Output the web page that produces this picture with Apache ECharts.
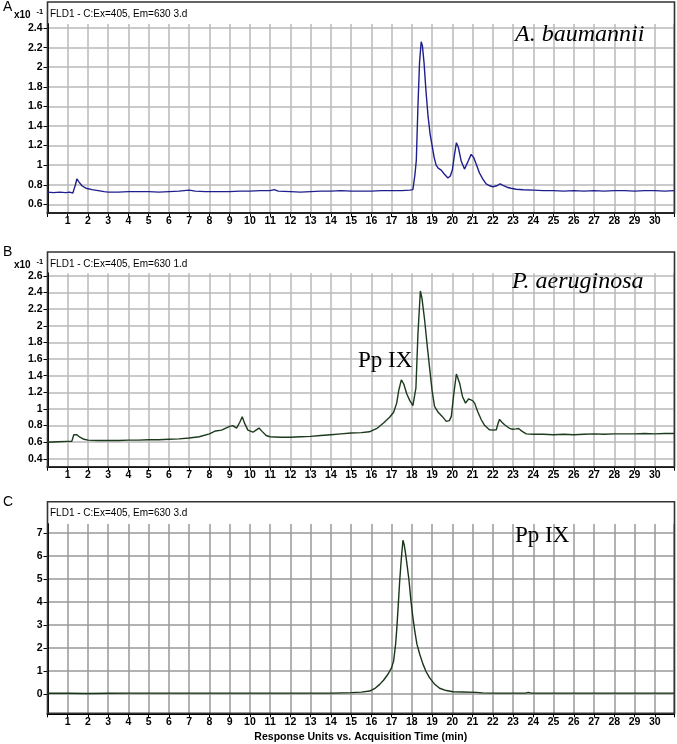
<!DOCTYPE html>
<html><head><meta charset="utf-8">
<script src="https://cdn.jsdelivr.net/npm/echarts@6/dist/echarts.min.js"></script>
<style>html,body{margin:0;padding:0;background:#fff}#c{width:677px;height:744px}</style>
</head><body><div id="c"></div>
<script>
// ---- data ----
const xTickLabels = [1,2,3,4,5,6,7,8,9,10,11,12,13,14,15,16,17,18,19,20,21,22,23,24,25,26,27,28,29,30];
const yTicksA = [0.6,0.8,1,1.2,1.4,1.6,1.8,2,2.2,2.4];
const yTicksB = [0.4,0.6,0.8,1,1.2,1.4,1.6,1.8,2,2.2,2.4,2.6];
const yTicksC = [0,1,2,3,4,5,6,7];

const timeA = [0,0.3,0.6,0.9,1.1,1.25,1.32,1.38,1.45,1.55,1.7,1.9,2.2,2.5,2.8,3.0,3.5,4.0,4.5,5.0,5.5,6.0,6.5,7.0,7.3,7.8,8.5,9.0,9.5,10.0,10.5,11.0,11.2,11.4,12.0,12.5,13.0,13.5,14.0,14.5,15.0,15.5,16.0,16.5,17.0,17.5,17.9,18.05,18.15,18.22,18.3,18.38,18.46,18.52,18.6,18.7,18.8,18.9,19.0,19.1,19.2,19.3,19.45,19.6,19.78,19.9,20.0,20.1,20.2,20.3,20.44,20.6,20.68,20.8,20.93,21.05,21.2,21.34,21.5,21.67,21.85,22.0,22.2,22.36,22.5,22.7,22.9,23.15,23.5,24.0,24.5,25.0,25.5,26.0,26.5,27.0,27.5,28.0,28.5,29.0,29.5,30.0,30.5,30.95];
const valueA = [0.725,0.72,0.725,0.72,0.725,0.715,0.705,0.80,0.86,0.83,0.79,0.765,0.75,0.74,0.73,0.725,0.725,0.73,0.73,0.73,0.725,0.73,0.735,0.745,0.735,0.73,0.73,0.73,0.735,0.735,0.74,0.74,0.75,0.735,0.73,0.725,0.73,0.735,0.735,0.74,0.735,0.735,0.735,0.74,0.74,0.74,0.745,0.75,0.9,1.05,1.6,2.05,2.26,2.22,2.05,1.75,1.5,1.32,1.2,1.08,1.0,0.97,0.95,0.91,0.87,0.89,0.95,1.1,1.23,1.18,1.04,0.96,0.95,1.05,1.11,1.08,1.0,0.92,0.86,0.81,0.79,0.78,0.79,0.81,0.795,0.775,0.765,0.755,0.75,0.745,0.74,0.74,0.735,0.74,0.735,0.74,0.735,0.74,0.74,0.735,0.74,0.74,0.735,0.74];

const timeB = [0,0.5,1.0,1.2,1.3,1.35,1.45,1.6,1.8,2.0,2.5,3.0,3.5,4.0,4.5,5.0,5.5,6.0,6.5,7.0,7.5,8.0,8.3,8.6,9.0,9.15,9.34,9.5,9.62,9.75,9.9,10.15,10.3,10.45,10.6,10.8,11.0,11.5,12.0,12.5,13.0,13.5,14.0,14.5,15.0,15.5,15.9,16.3,16.6,16.9,17.1,17.25,17.35,17.48,17.6,17.75,17.9,18.05,18.13,18.2,18.3,18.42,18.5,18.63,18.75,18.87,19.0,19.12,19.3,19.5,19.7,19.85,19.95,20.08,20.2,20.36,20.5,20.65,20.8,20.88,21.0,21.1,21.25,21.43,21.6,21.83,22.0,22.17,22.25,22.33,22.45,22.58,22.8,22.98,23.15,23.27,23.45,23.65,24.0,24.5,25.0,25.5,26.0,26.5,27.0,27.5,28.0,28.5,29.0,29.5,30.0,30.5,30.95];
const valueB = [0.60,0.605,0.61,0.61,0.69,0.71,0.69,0.66,0.635,0.625,0.62,0.62,0.62,0.625,0.625,0.63,0.63,0.635,0.64,0.65,0.665,0.70,0.735,0.745,0.79,0.80,0.77,0.84,0.905,0.82,0.745,0.72,0.745,0.77,0.73,0.68,0.665,0.66,0.66,0.665,0.67,0.68,0.69,0.70,0.71,0.715,0.725,0.77,0.83,0.90,0.96,1.07,1.22,1.35,1.30,1.18,1.10,1.04,1.03,1.25,1.9,2.42,2.33,2.07,1.78,1.51,1.22,1.03,0.96,0.91,0.85,0.86,0.91,1.2,1.42,1.31,1.15,1.07,1.12,1.14,1.10,1.07,0.97,0.87,0.80,0.75,0.745,0.75,0.82,0.875,0.84,0.81,0.77,0.755,0.76,0.765,0.73,0.70,0.695,0.695,0.69,0.695,0.69,0.695,0.70,0.695,0.70,0.70,0.70,0.705,0.70,0.705,0.705];

const timeC = [0,1,2,3,4,5,6,7,8,9,10,11,12,13,14,14.5,15.0,15.5,15.92,16.2,16.41,16.6,16.82,17.0,17.1,17.2,17.26,17.33,17.4,17.48,17.56,17.62,17.69,17.78,17.86,17.95,18.05,18.15,18.25,18.4,18.55,18.7,18.87,19.1,19.37,19.7,20.03,20.5,21.18,21.5,22.0,23.0,23.6,23.75,23.9,24.5,25,26,27,28,29,30,30.95];
const valueC = [0.03,0.03,0.02,0.03,0.04,0.04,0.04,0.04,0.04,0.04,0.04,0.04,0.04,0.04,0.04,0.05,0.06,0.08,0.13,0.26,0.42,0.6,0.86,1.15,1.44,2.2,2.9,3.9,4.94,5.9,6.69,6.5,6.11,5.5,4.94,4.1,3.34,2.7,2.17,1.7,1.3,0.98,0.71,0.45,0.25,0.15,0.10,0.09,0.07,0.05,0.04,0.04,0.04,0.07,0.04,0.04,0.04,0.04,0.04,0.04,0.04,0.04,0.04];

const xAxisTitle = 'Response Units vs. Acquisition Time (min)';
const headers = ['FLD1 - C:Ex=405, Em=630 3.d','FLD1 - C:Ex=405, Em=630 1.d','FLD1 - C:Ex=405, Em=630 3.d'];

// ---- layout ----
const L = 47.5, W = 627;
const panels = [
  {top:24, height:189, min:0.512, max:2.441, split:9, ticks:yTicksA, frameTop:2, color:'#1e1e8e', grid:'#b8b8b8', t:timeA, v:valueA},
  {top:273.3, height:193.4, min:0.305, max:2.632, split:11, ticks:yTicksB, frameTop:252, color:'#1c3a1c', grid:'#b8b8b8', t:timeB, v:valueB},
  {top:524, height:189.3, min:-0.84, max:7.40, split:8, ticks:yTicksC, frameTop:501.7, color:'#183518', grid:'#999999', t:timeC, v:valueC}
];
const FF = '"Liberation Sans", Arial, sans-serif';
const zip = (a,b) => a.map((x,i)=>[x,b[i]]);

const grid=[], xAxis=[], yAxis=[], series=[], graphic=[];
panels.forEach((p,i)=>{
  grid.push({left:L, width:W, top:p.top, height:p.height, containLabel:false});
  xAxis.push({
    gridIndex:i, type:'value', min:0, max:30.95, interval:1,
    axisLine:{onZero:false, lineStyle:{color:'#000', width:2}},
    axisTick:{length:4, lineStyle:{color:'#000', width:1}},
    axisLabel:{margin:3, color:'#000', fontSize:10.5, fontWeight:'bold', fontFamily:FF,
      formatter:v => xTickLabels.indexOf(v) >= 0 ? String(v) : ''},
    splitLine:{show:true, lineStyle:{color:p.grid, width:1.5}},
    name: i===2 ? xAxisTitle : '', nameLocation:'middle', nameGap:18,
    nameTextStyle:{color:'#000', fontSize:10.5, fontWeight:'bold', fontFamily:FF}
  });
  yAxis.push({
    gridIndex:i, type:'value', min:p.min, max:p.max, splitNumber:p.split,
    axisLine:{show:true, onZero:false, lineStyle:{color:'#000', width:2}},
    axisTick:{show:true, length:4, lineStyle:{color:'#000', width:1}, customValues:p.ticks},
    axisLabel:{customValues:p.ticks, margin:5, color:'#000', fontSize:10.5, fontWeight:'bold', fontFamily:FF,
      formatter:v => String(+(+v).toFixed(1))},
    splitLine:{show:true, lineStyle:{color:p.grid, width:1.5}}
  });
  series.push({type:'line', xAxisIndex:i, yAxisIndex:i, data:zip(p.t,p.v), showSymbol:false, symbol:'none',
    lineStyle:{color:p.color, width:1.4}, z:5, animation:false});
  const bottom = p.top + p.height;
  graphic.push({type:'rect', z:1, silent:true, shape:{x:L, y:p.frameTop, width:W, height:bottom-p.frameTop},
    style:{fill:'none', stroke:'#333', lineWidth:1.6}});
  graphic.push({type:'text', z:10, style:{text:headers[i], x:50, y:p.frameTop+12, verticalAlign:'middle',
    font:'10px '+FF, fill:'#000'}});
  graphic.push({type:'text', z:10, style:{text:['A','B','C'][i], x:3, y:p.frameTop+(i===0?5:0), verticalAlign:'middle',
    font:'14px '+FF, fill:'#000'}});
  if (i < 2) {
    graphic.push({type:'text', z:10, style:{text:'x10', x:14, y:p.frameTop+13.5, verticalAlign:'middle', font:'bold 10px '+FF, fill:'#000'}});
    graphic.push({type:'text', z:10, style:{text:'-1', x:36.5, y:p.frameTop+10, verticalAlign:'middle', font:'bold 7.5px '+FF, fill:'#000'}});
  }
});
const serif = '"Liberation Serif", "Times New Roman", serif';
graphic.push({type:'text', z:10, style:{text:'A. baumannii', x:515, y:35, verticalAlign:'middle', font:'italic 24px '+serif, fill:'#000'}});
graphic.push({type:'text', z:10, style:{text:'P. aeruginosa', x:512, y:281.5, verticalAlign:'middle', font:'italic 24px '+serif, fill:'#000'}});
graphic.push({type:'text', z:10, style:{text:'Pp IX', x:358, y:360.5, verticalAlign:'middle', font:'23px '+serif, fill:'#000'}});
graphic.push({type:'text', z:10, style:{text:'Pp IX', x:515, y:536, verticalAlign:'middle', font:'23px '+serif, fill:'#000'}});

const chart = echarts.init(document.getElementById('c'), null, {renderer:'canvas'});
chart.setOption({animation:false, backgroundColor:'#fff', grid, xAxis, yAxis, series, graphic});
</script></body></html>
